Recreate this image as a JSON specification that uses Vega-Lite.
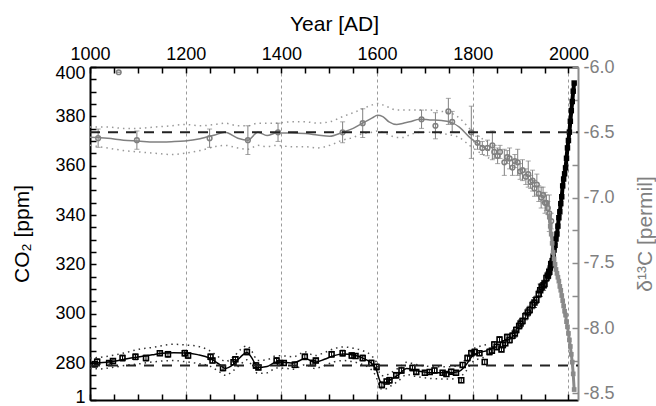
{
  "$schema": "https://vega.github.io/schema/vega-lite/v6.json",
  "width": 488,
  "height": 333,
  "autosize": {"type": "none"},
  "padding": {"left": 90, "top": 67, "right": 78, "bottom": 6},
  "background": "white",
  "config": {
    "font": "Liberation Sans",
    "view": {"stroke": null},
    "axis": {"labelFont": "Liberation Sans", "titleFont": "Liberation Sans", "labelFontSize": 18, "titleFontSize": 21, "titleFontWeight": "normal", "grid": false, "labelOverlap": false, "labelFlush": false}
  },
  "datasets": {
    "co2line": [
      {"year":1000,"ppm":280.0},{"year":1020,"ppm":280.1},{"year":1050,"ppm":280.7},{"year":1080,"ppm":281.8},{"year":1100,"ppm":282.4},{"year":1130,"ppm":283.3},{"year":1150,"ppm":284.0},{"year":1175,"ppm":284.2},{"year":1200,"ppm":284.1},{"year":1225,"ppm":283.4},{"year":1250,"ppm":282.0},{"year":1270,"ppm":279.5},{"year":1283,"ppm":277.8},{"year":1300,"ppm":279.5},{"year":1315,"ppm":282.5},{"year":1328,"ppm":284.3},{"year":1340,"ppm":281.5},{"year":1350,"ppm":278.2},{"year":1370,"ppm":278.6},{"year":1390,"ppm":280.4},{"year":1410,"ppm":280.2},{"year":1425,"ppm":280.0},{"year":1450,"ppm":281.8},{"year":1470,"ppm":280.3},{"year":1490,"ppm":281.5},{"year":1510,"ppm":283.0},{"year":1530,"ppm":283.6},{"year":1550,"ppm":283.2},{"year":1570,"ppm":282.0},{"year":1588,"ppm":280.0},{"year":1598,"ppm":277.5},{"year":1608,"ppm":272.2},{"year":1615,"ppm":272.0},{"year":1628,"ppm":273.2},{"year":1645,"ppm":275.3},{"year":1662,"ppm":277.8},{"year":1680,"ppm":277.0},{"year":1700,"ppm":276.3},{"year":1720,"ppm":276.0},{"year":1750,"ppm":276.0},{"year":1770,"ppm":276.5},{"year":1785,"ppm":279.0},{"year":1800,"ppm":283.0},{"year":1815,"ppm":284.3},{"year":1830,"ppm":285.0}
    ],
    "co2env": [
      {"side":"hi","year":1000,"ppm":282.0},{"side":"hi","year":1020,"ppm":282.3},{"side":"hi","year":1050,"ppm":283.2},{"side":"hi","year":1080,"ppm":284.5},{"side":"hi","year":1100,"ppm":285.5},{"side":"hi","year":1130,"ppm":286.3},{"side":"hi","year":1150,"ppm":287.0},{"side":"hi","year":1175,"ppm":287.6},{"side":"hi","year":1200,"ppm":287.3},{"side":"hi","year":1225,"ppm":286.8},{"side":"hi","year":1250,"ppm":285.0},{"side":"hi","year":1270,"ppm":282.3},{"side":"hi","year":1283,"ppm":280.6},{"side":"hi","year":1300,"ppm":282.5},{"side":"hi","year":1315,"ppm":285.5},{"side":"hi","year":1328,"ppm":287.0},{"side":"hi","year":1340,"ppm":284.2},{"side":"hi","year":1350,"ppm":281.0},{"side":"hi","year":1370,"ppm":281.3},{"side":"hi","year":1390,"ppm":283.0},{"side":"hi","year":1410,"ppm":282.8},{"side":"hi","year":1425,"ppm":282.5},{"side":"hi","year":1450,"ppm":284.5},{"side":"hi","year":1470,"ppm":283.0},{"side":"hi","year":1490,"ppm":284.2},{"side":"hi","year":1510,"ppm":285.8},{"side":"hi","year":1530,"ppm":286.5},{"side":"hi","year":1550,"ppm":286.0},{"side":"hi","year":1570,"ppm":285.0},{"side":"hi","year":1588,"ppm":283.0},{"side":"hi","year":1598,"ppm":280.5},{"side":"hi","year":1608,"ppm":275.0},{"side":"hi","year":1615,"ppm":274.8},{"side":"hi","year":1628,"ppm":276.0},{"side":"hi","year":1645,"ppm":278.0},{"side":"hi","year":1662,"ppm":280.3},{"side":"hi","year":1680,"ppm":279.5},{"side":"hi","year":1700,"ppm":278.8},{"side":"hi","year":1720,"ppm":278.5},{"side":"hi","year":1750,"ppm":278.5},{"side":"hi","year":1770,"ppm":279.0},{"side":"hi","year":1785,"ppm":281.5},{"side":"hi","year":1800,"ppm":285.5},{"side":"hi","year":1815,"ppm":286.8},{"side":"hi","year":1830,"ppm":287.5},
      {"side":"lo","year":1000,"ppm":277.8},{"side":"lo","year":1020,"ppm":277.6},{"side":"lo","year":1050,"ppm":278.3},{"side":"lo","year":1080,"ppm":279.2},{"side":"lo","year":1100,"ppm":279.6},{"side":"lo","year":1130,"ppm":280.4},{"side":"lo","year":1150,"ppm":280.8},{"side":"lo","year":1175,"ppm":281.0},{"side":"lo","year":1200,"ppm":280.5},{"side":"lo","year":1225,"ppm":279.8},{"side":"lo","year":1250,"ppm":278.8},{"side":"lo","year":1270,"ppm":276.5},{"side":"lo","year":1283,"ppm":275.0},{"side":"lo","year":1300,"ppm":277.0},{"side":"lo","year":1315,"ppm":279.5},{"side":"lo","year":1328,"ppm":281.3},{"side":"lo","year":1340,"ppm":278.5},{"side":"lo","year":1350,"ppm":275.8},{"side":"lo","year":1370,"ppm":276.0},{"side":"lo","year":1390,"ppm":278.0},{"side":"lo","year":1410,"ppm":277.8},{"side":"lo","year":1425,"ppm":277.5},{"side":"lo","year":1450,"ppm":279.3},{"side":"lo","year":1470,"ppm":277.8},{"side":"lo","year":1490,"ppm":279.0},{"side":"lo","year":1510,"ppm":280.5},{"side":"lo","year":1530,"ppm":281.0},{"side":"lo","year":1550,"ppm":280.5},{"side":"lo","year":1570,"ppm":279.3},{"side":"lo","year":1588,"ppm":277.3},{"side":"lo","year":1598,"ppm":274.5},{"side":"lo","year":1608,"ppm":269.5},{"side":"lo","year":1615,"ppm":269.3},{"side":"lo","year":1628,"ppm":270.6},{"side":"lo","year":1645,"ppm":272.8},{"side":"lo","year":1662,"ppm":275.3},{"side":"lo","year":1680,"ppm":274.6},{"side":"lo","year":1700,"ppm":274.0},{"side":"lo","year":1720,"ppm":273.6},{"side":"lo","year":1750,"ppm":273.5},{"side":"lo","year":1770,"ppm":274.0},{"side":"lo","year":1785,"ppm":276.5},{"side":"lo","year":1800,"ppm":280.5},{"side":"lo","year":1815,"ppm":281.8},{"side":"lo","year":1830,"ppm":282.5}
    ],
    "co2pts": [
      {"year":1010,"ppm":279.5,"err":1.2},{"year":1015,"ppm":280.5,"err":1.2},{"year":1040,"ppm":280.0,"err":1.0},{"year":1048,"ppm":280.8,"err":1.0},{"year":1068,"ppm":282.0,"err":1.2},{"year":1095,"ppm":282.5,"err":1.2},{"year":1117,"ppm":282.0,"err":1.2},{"year":1146,"ppm":284.0,"err":1.0},{"year":1163,"ppm":283.5,"err":1.2},{"year":1198,"ppm":284.0,"err":1.2},{"year":1205,"ppm":283.0,"err":1.2},{"year":1252,"ppm":282.5,"err":1.2},{"year":1256,"ppm":281.0,"err":1.0},{"year":1278,"ppm":278.0,"err":1.2},{"year":1300,"ppm":280.3,"err":1.0},{"year":1304,"ppm":281.5,"err":1.0},{"year":1328,"ppm":284.5,"err":1.2},{"year":1347,"ppm":279.0,"err":1.2},{"year":1352,"ppm":278.2,"err":1.0},{"year":1390,"ppm":281.0,"err":1.2},{"year":1397,"ppm":280.0,"err":1.0},{"year":1405,"ppm":280.0,"err":1.0},{"year":1428,"ppm":279.3,"err":1.2},{"year":1449,"ppm":282.5,"err":1.2},{"year":1466,"ppm":280.0,"err":1.2},{"year":1472,"ppm":281.0,"err":1.0},{"year":1505,"ppm":283.5,"err":1.2},{"year":1528,"ppm":284.0,"err":1.2},{"year":1547,"ppm":283.0,"err":1.2},{"year":1555,"ppm":282.8,"err":1.0},{"year":1570,"ppm":282.0,"err":1.2},{"year":1588,"ppm":280.0,"err":1.2},{"year":1599,"ppm":278.4,"err":1.2},{"year":1610,"ppm":271.1,"err":1.2},{"year":1620,"ppm":272.5,"err":1.0},{"year":1626,"ppm":273.0,"err":1.2},{"year":1640,"ppm":275.0,"err":1.2},{"year":1651,"ppm":277.0,"err":1.2},{"year":1674,"ppm":278.0,"err":1.2},{"year":1682,"ppm":276.4,"err":1.0},{"year":1700,"ppm":276.0,"err":1.0},{"year":1710,"ppm":276.4,"err":1.0},{"year":1720,"ppm":277.0,"err":1.0},{"year":1737,"ppm":276.0,"err":1.0},{"year":1745,"ppm":275.5,"err":1.0},{"year":1755,"ppm":276.5,"err":1.0},{"year":1765,"ppm":276.0,"err":1.0},{"year":1776,"ppm":273.0,"err":1.0},{"year":1779,"ppm":279.2,"err":1.0},{"year":1789,"ppm":282.0,"err":1.2},{"year":1797,"ppm":284.0,"err":1.2},{"year":1804,"ppm":284.5,"err":1.2},{"year":1814,"ppm":284.0,"err":1.0},{"year":1825,"ppm":280.4,"err":1.0},{"year":1835,"ppm":284.5,"err":1.2},{"year":1840,"ppm":285.0,"err":1.0},{"year":1845,"ppm":287.5,"err":1.2},{"year":1850,"ppm":286.5,"err":1.2},{"year":1856,"ppm":289.5,"err":1.2},{"year":1860,"ppm":285.5,"err":1.0},{"year":1863,"ppm":287.3,"err":1.2},{"year":1868,"ppm":288.0,"err":1.0},{"year":1872,"ppm":290.5,"err":1.2},{"year":1877,"ppm":289.3,"err":1.2},{"year":1883,"ppm":291.0,"err":1.2},{"year":1888,"ppm":292.0,"err":1.5},{"year":1891,"ppm":293.4,"err":1.2},{"year":1897,"ppm":295.0,"err":1.2},{"year":1900,"ppm":296.0,"err":1.5},{"year":1904,"ppm":297.0,"err":1.2},{"year":1910,"ppm":299.0,"err":1.5},{"year":1915,"ppm":300.5,"err":1.5},{"year":1919,"ppm":301.5,"err":1.5},{"year":1925,"ppm":303.5,"err":1.5},{"year":1929,"ppm":304.5,"err":2.0},{"year":1933,"ppm":305.6,"err":1.5},{"year":1938,"ppm":308.0,"err":1.5},{"year":1941,"ppm":309.5,"err":2.5},{"year":1944,"ppm":310.8,"err":1.5},{"year":1948,"ppm":311.5,"err":2.0},{"year":1950,"ppm":312.0,"err":1.5},{"year":1954,"ppm":314.5,"err":1.5},{"year":1957,"ppm":315.5,"err":1.5},{"year":1960,"ppm":317.0,"err":1.5},{"year":1964,"ppm":320.0,"err":1.5}
    ],
    "co2mod": [
      {"year":1958,"ppm":315.3},{"year":1960,"ppm":317.0},{"year":1962,"ppm":318.5},{"year":1964,"ppm":319.8},{"year":1966,"ppm":321.5},{"year":1968,"ppm":323.3},{"year":1970,"ppm":325.8},{"year":1972,"ppm":327.7},{"year":1974,"ppm":330.3},{"year":1976,"ppm":332.3},{"year":1978,"ppm":335.5},{"year":1980,"ppm":338.9},{"year":1982,"ppm":341.3},{"year":1984,"ppm":344.6},{"year":1986,"ppm":347.4},{"year":1988,"ppm":351.8},{"year":1990,"ppm":354.6},{"year":1992,"ppm":356.7},{"year":1994,"ppm":359.1},{"year":1996,"ppm":363.0},{"year":1998,"ppm":367.2},{"year":2000,"ppm":370.2},{"year":2002,"ppm":373.6},{"year":2004,"ppm":378.0},{"year":2006,"ppm":382.3},{"year":2008,"ppm":386.0},{"year":2010,"ppm":390.2},{"year":2012,"ppm":393.5}
    ],
    "co2ref": [{"year":1000,"ppm":279},{"year":2020,"ppm":279}],
    "d13line": [
      {"year":1000,"d":-6.537},{"year":1037,"d":-6.545},{"year":1070,"d":-6.56},{"year":1100,"d":-6.567},{"year":1135,"d":-6.575},{"year":1170,"d":-6.572},{"year":1198,"d":-6.567},{"year":1230,"d":-6.55},{"year":1261,"d":-6.52},{"year":1282,"d":-6.50},{"year":1309,"d":-6.545},{"year":1330,"d":-6.56},{"year":1351,"d":-6.50},{"year":1370,"d":-6.525},{"year":1390,"d":-6.506},{"year":1420,"d":-6.505},{"year":1450,"d":-6.51},{"year":1475,"d":-6.52},{"year":1501,"d":-6.53},{"year":1528,"d":-6.50},{"year":1550,"d":-6.47},{"year":1570,"d":-6.43},{"year":1590,"d":-6.39},{"year":1601,"d":-6.37},{"year":1612,"d":-6.38},{"year":1625,"d":-6.42},{"year":1641,"d":-6.44},{"year":1655,"d":-6.43},{"year":1668,"d":-6.42},{"year":1689,"d":-6.40},{"year":1710,"d":-6.405},{"year":1735,"d":-6.41},{"year":1752,"d":-6.42},{"year":1772,"d":-6.46},{"year":1793,"d":-6.537},{"year":1808,"d":-6.58},{"year":1835,"d":-6.64}
    ],
    "d13env": [
      {"side":"hi","year":1000,"d":-6.46},{"side":"hi","year":1037,"d":-6.46},{"side":"hi","year":1070,"d":-6.47},{"side":"hi","year":1100,"d":-6.47},{"side":"hi","year":1135,"d":-6.46},{"side":"hi","year":1170,"d":-6.45},{"side":"hi","year":1198,"d":-6.44},{"side":"hi","year":1230,"d":-6.45},{"side":"hi","year":1261,"d":-6.44},{"side":"hi","year":1282,"d":-6.43},{"side":"hi","year":1309,"d":-6.45},{"side":"hi","year":1330,"d":-6.45},{"side":"hi","year":1351,"d":-6.43},{"side":"hi","year":1370,"d":-6.43},{"side":"hi","year":1390,"d":-6.43},{"side":"hi","year":1420,"d":-6.42},{"side":"hi","year":1450,"d":-6.42},{"side":"hi","year":1475,"d":-6.43},{"side":"hi","year":1501,"d":-6.42},{"side":"hi","year":1528,"d":-6.38},{"side":"hi","year":1550,"d":-6.35},{"side":"hi","year":1570,"d":-6.32},{"side":"hi","year":1590,"d":-6.29},{"side":"hi","year":1601,"d":-6.28},{"side":"hi","year":1612,"d":-6.29},{"side":"hi","year":1625,"d":-6.31},{"side":"hi","year":1641,"d":-6.33},{"side":"hi","year":1655,"d":-6.33},{"side":"hi","year":1668,"d":-6.33},{"side":"hi","year":1689,"d":-6.33},{"side":"hi","year":1710,"d":-6.33},{"side":"hi","year":1735,"d":-6.34},{"side":"hi","year":1752,"d":-6.35},{"side":"hi","year":1772,"d":-6.39},{"side":"hi","year":1793,"d":-6.47},{"side":"hi","year":1808,"d":-6.52},{"side":"hi","year":1835,"d":-6.58},
      {"side":"lo","year":1000,"d":-6.60},{"side":"lo","year":1037,"d":-6.62},{"side":"lo","year":1070,"d":-6.64},{"side":"lo","year":1100,"d":-6.65},{"side":"lo","year":1135,"d":-6.66},{"side":"lo","year":1170,"d":-6.67},{"side":"lo","year":1198,"d":-6.66},{"side":"lo","year":1230,"d":-6.64},{"side":"lo","year":1261,"d":-6.61},{"side":"lo","year":1282,"d":-6.60},{"side":"lo","year":1309,"d":-6.62},{"side":"lo","year":1330,"d":-6.63},{"side":"lo","year":1351,"d":-6.60},{"side":"lo","year":1370,"d":-6.61},{"side":"lo","year":1390,"d":-6.60},{"side":"lo","year":1420,"d":-6.61},{"side":"lo","year":1450,"d":-6.61},{"side":"lo","year":1475,"d":-6.62},{"side":"lo","year":1501,"d":-6.60},{"side":"lo","year":1528,"d":-6.56},{"side":"lo","year":1550,"d":-6.54},{"side":"lo","year":1570,"d":-6.51},{"side":"lo","year":1590,"d":-6.50},{"side":"lo","year":1601,"d":-6.49},{"side":"lo","year":1612,"d":-6.50},{"side":"lo","year":1625,"d":-6.52},{"side":"lo","year":1641,"d":-6.54},{"side":"lo","year":1655,"d":-6.54},{"side":"lo","year":1668,"d":-6.52},{"side":"lo","year":1689,"d":-6.50},{"side":"lo","year":1710,"d":-6.50},{"side":"lo","year":1735,"d":-6.51},{"side":"lo","year":1752,"d":-6.52},{"side":"lo","year":1772,"d":-6.54},{"side":"lo","year":1793,"d":-6.60},{"side":"lo","year":1808,"d":-6.64},{"side":"lo","year":1835,"d":-6.70}
    ],
    "d13pts": [
      {"year":1017,"d":-6.545,"err":0.07},{"year":1060,"d":-6.04,"err":0},{"year":1098,"d":-6.56,"err":0.07},{"year":1250,"d":-6.545,"err":0.07},{"year":1330,"d":-6.56,"err":0.11},{"year":1393,"d":-6.50,"err":0.07},{"year":1528,"d":-6.50,"err":0.08},{"year":1570,"d":-6.43,"err":0.11},{"year":1693,"d":-6.40,"err":0.07},{"year":1722,"d":-6.45,"err":0.10},{"year":1749,"d":-6.34,"err":0.10},{"year":1757,"d":-6.42,"err":0.08},{"year":1797,"d":-6.50,"err":0.20},{"year":1810,"d":-6.58,"err":0.05},{"year":1820,"d":-6.62,"err":0.05},{"year":1831,"d":-6.62,"err":0.06},{"year":1841,"d":-6.60,"err":0.11},{"year":1845,"d":-6.65,"err":0.05},{"year":1852,"d":-6.68,"err":0.06},{"year":1857,"d":-6.65,"err":0.05},{"year":1866,"d":-6.73,"err":0.10},{"year":1872,"d":-6.69,"err":0.05},{"year":1877,"d":-6.70,"err":0.08},{"year":1883,"d":-6.77,"err":0.06},{"year":1888,"d":-6.72,"err":0.05},{"year":1894,"d":-6.73,"err":0.10},{"year":1899,"d":-6.80,"err":0.06},{"year":1904,"d":-6.79,"err":0.08},{"year":1911,"d":-6.84,"err":0.06},{"year":1916,"d":-6.82,"err":0.10},{"year":1921,"d":-6.88,"err":0.05},{"year":1925,"d":-6.87,"err":0.08},{"year":1929,"d":-6.93,"err":0.06},{"year":1934,"d":-6.90,"err":0.08},{"year":1938,"d":-6.97,"err":0.06},{"year":1943,"d":-7.00,"err":0.08},{"year":1947,"d":-6.98,"err":0.06},{"year":1951,"d":-7.04,"err":0.08},{"year":1954,"d":-7.04,"err":0.06},{"year":1957,"d":-7.08,"err":0.05},{"year":1960,"d":-7.12,"err":0.14},{"year":1964,"d":-7.18,"err":0.06}
    ],
    "d13mod": [
      {"year":1960,"d":-7.15},{"year":1962,"d":-7.22},{"year":1964,"d":-7.28},{"year":1966,"d":-7.35},{"year":1968,"d":-7.42},{"year":1970,"d":-7.47},{"year":1972,"d":-7.51},{"year":1974,"d":-7.55},{"year":1976,"d":-7.58},{"year":1978,"d":-7.61},{"year":1980,"d":-7.64},{"year":1982,"d":-7.68},{"year":1984,"d":-7.71},{"year":1986,"d":-7.75},{"year":1988,"d":-7.79},{"year":1990,"d":-7.83},{"year":1992,"d":-7.87},{"year":1994,"d":-7.90},{"year":1996,"d":-7.95},{"year":1998,"d":-7.99},{"year":2000,"d":-8.04},{"year":2002,"d":-8.09},{"year":2004,"d":-8.14},{"year":2006,"d":-8.20},{"year":2008,"d":-8.26},{"year":2010,"d":-8.35},{"year":2012,"d":-8.47}
    ],
    "d13ref": [{"year":1000,"d":-6.5},{"year":2020,"d":-6.5}]
  },
  "layer": [
    {
      "encoding": {
        "x": {"field": "year", "type": "quantitative", "scale": {"domain": [1000, 2020], "nice": false, "zero": false},
          "axis": {"orient": "top", "title": "Year [AD]", "values": [1000,1050,1100,1150,1200,1250,1300,1350,1400,1450,1500,1550,1600,1650,1700,1750,1800,1850,1900,1950,2000], "format": "d", "labelExpr": "datum.value % 200 === 0 ? datum.label : ''", "domainColor": "black", "domainWidth": 2, "tickColor": "black", "tickWidth": 1.5, "tickSize": -6, "labelColor": "black", "labelPadding": 10, "titleColor": "black", "titlePadding": 11,
            "grid": true, "gridColor": "#9a9a9a", "gridDash": [3, 3], "gridWidth": 1, "gridOpacity": {"condition": {"test": "datum.value % 200 === 0 && datum.value > 1000", "value": 1}, "value": 0}}},
        "y": {"field": "ppm", "type": "quantitative", "scale": {"domain": [265, 400], "nice": false, "zero": false},
          "axis": {"orient": "left", "title": "CO₂ [ppm]", "values": [265,270,275,280,285,290,295,300,305,310,315,320,325,330,335,340,345,350,355,360,365,370,375,380,385,390,395,400], "labelExpr": "datum.value % 20 === 0 ? datum.label : (datum.value === 265 ? '1' : '')", "labelOffset": {"condition": [{"test": "datum.value === 265", "value": -3}, {"test": "datum.value === 400", "value": 6}], "value": 0}, "domainColor": "black", "domainWidth": 2, "tickColor": "black", "tickWidth": 1.5, "tickSize": -6, "labelColor": "black", "labelPadding": 11, "titleColor": "black", "titlePadding": 22}}
      },
      "layer": [
        {"data": {"name": "co2line"}, "mark": {"type": "line", "color": "black", "strokeWidth": 1.5, "interpolate": "monotone"}},
        {"data": {"name": "co2env"}, "mark": {"type": "line", "color": "#333", "strokeWidth": 1.5, "strokeDash": [1.5, 4], "interpolate": "monotone"}, "encoding": {"detail": {"field": "side"}}},
        {"data": {"name": "co2pts"}, "mark": {"type": "errorbar", "color": "black", "thickness": 1, "ticks": {"size": 5, "color": "black"}}, "encoding": {"yError": {"field": "err"}}},
        {"data": {"name": "co2pts"}, "mark": {"type": "point", "shape": "square", "filled": false, "color": "black", "size": 24, "strokeWidth": 1.6, "opacity": 1}},
        {"data": {"name": "co2mod"}, "mark": {"type": "line", "color": "black", "strokeWidth": 4}},
        {"data": {"name": "co2mod"}, "mark": {"type": "point", "shape": "square", "filled": true, "color": "black", "size": 30, "opacity": 1}},
        {"data": {"name": "co2ref"}, "mark": {"type": "line", "color": "#222", "strokeWidth": 2, "strokeDash": [10, 8]}}
      ]
    },
    {
      "encoding": {
        "x": {"field": "year", "type": "quantitative", "scale": {"domain": [1000, 2020], "nice": false, "zero": false},
          "axis": {"orient": "bottom", "title": null, "values": [1000,1050,1100,1150,1200,1250,1300,1350,1400,1450,1500,1550,1600,1650,1700,1750,1800,1850,1900,1950,2000], "labels": false, "domainColor": "black", "domainWidth": 2, "tickColor": "black", "tickWidth": 1.5, "tickSize": -6}},
        "y": {"field": "d", "type": "quantitative", "scale": {"domain": [-8.55, -6.0], "nice": false, "zero": false},
          "axis": {"orient": "right", "title": "δ¹³C  [permil]", "values": [-8.5,-8.25,-8.0,-7.75,-7.5,-7.25,-7.0,-6.75,-6.5,-6.25,-6.0], "format": ".1f", "labelExpr": "abs(datum.value*2 - round(datum.value*2)) < 0.001 ? replace(datum.label, '−', '-') : ''", "domainColor": "#8c8c8c", "domainWidth": 2, "tickColor": "#8c8c8c", "tickWidth": 1.5, "tickSize": -6, "labelColor": "#808080", "labelPadding": 11, "titleColor": "#808080", "titlePadding": 20, "titleAngle": 270, "titleBaseline": "top"}}
      },
      "layer": [
        {"data": {"name": "d13line"}, "mark": {"type": "line", "color": "#808080", "strokeWidth": 1.5, "interpolate": "monotone"}},
        {"data": {"name": "d13env"}, "mark": {"type": "line", "color": "#999", "strokeWidth": 1.5, "strokeDash": [1.5, 4], "interpolate": "monotone"}, "encoding": {"detail": {"field": "side"}}},
        {"data": {"name": "d13pts"}, "mark": {"type": "errorbar", "color": "#808080", "thickness": 1, "ticks": {"size": 5, "color": "#808080"}}, "encoding": {"yError": {"field": "err"}}},
        {"data": {"name": "d13pts"}, "mark": {"type": "point", "shape": "circle", "filled": false, "color": "#808080", "size": 22, "strokeWidth": 1.5, "opacity": 1}},
        {"data": {"name": "d13mod"}, "mark": {"type": "line", "color": "#8a8a8a", "strokeWidth": 3}},
        {"data": {"name": "d13mod"}, "mark": {"type": "point", "shape": "square", "filled": true, "color": "#8a8a8a", "size": 22, "opacity": 1}},
        {"data": {"name": "d13ref"}, "mark": {"type": "line", "color": "#222", "strokeWidth": 2, "strokeDash": [10, 8]}}
      ]
    }
  ],
  "resolve": {"scale": {"y": "independent"}, "axis": {"x": "independent", "y": "independent"}}
}
